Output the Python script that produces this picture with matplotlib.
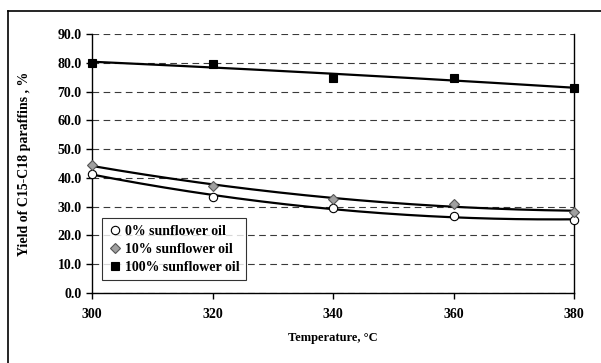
import numpy as np
import matplotlib
matplotlib.use('AGG')
import matplotlib.pyplot as plt
from matplotlib.lines import Line2D

temps = [300, 320, 340, 360, 380]
oil_0 = [41.5, 33.3, 29.5, 26.6, 25.4]
oil_10 = [44.5, 37.2, 32.6, 31.1, 28.1]
oil_100 = [80.0, 79.6, 74.7, 74.6, 71.2]
y_ticks = [0, 10, 20, 30, 40, 50, 60, 70, 80, 90]
x_ticks = [300, 320, 340, 360, 380]

plt.rcParams['font.family'] = ['Liberation Serif', 'DejaVu Serif']
plt.rcParams['font.weight'] = 'bold'

fig = plt.figure(figsize=(6.01, 3.63), dpi=100)
ax = fig.add_axes([92 / 601, 1 - 293 / 363, (574 - 92) / 601, (293 - 34) / 363])

# outer chart frame
fig.add_artist(Line2D([8 / 601, 8 / 601], [0, 1 - 11 / 363], transform=fig.transFigure,
                      color='black', lw=1.2))
fig.add_artist(Line2D([8 / 601, 1], [1 - 11 / 363, 1 - 11 / 363], transform=fig.transFigure,
                      color='black', lw=1.2))

xs = np.linspace(300, 380, 200)
series = [
    (oil_0, 'o', 'white', '0% sunflower oil'),
    (oil_10, 'D', '#a0a0a0', '10% sunflower oil'),
    (oil_100, 's', 'black', '100% sunflower oil'),
]
for vals, mk, fc, lab in series:
    coef = np.polyfit(temps, vals, 2)
    ax.plot(xs, np.polyval(coef, xs), color='black', lw=1.6, zorder=2)
    ms = 5 if mk == 'D' else 6
    ax.plot(temps, vals, linestyle='none', marker=mk, markersize=ms,
            markerfacecolor=fc, markeredgecolor='black' if mk != 'D' else '#555555',
            markeredgewidth=0.8, label=lab, zorder=3, clip_on=False)

ax.set_xlim(300, 380)
ax.set_ylim(0, 90)
ax.set_xticks(x_ticks)
ax.set_yticks(y_ticks)
ax.set_yticklabels([f'{v:.1f}' for v in y_ticks])
ax.tick_params(axis='both', labelsize=10, length=4, width=1, direction='out')
ax.tick_params(axis='x', pad=7)
for lbl in ax.get_xticklabels() + ax.get_yticklabels():
    lbl.set_fontweight('bold')

ax.grid(axis='y', linestyle=(0, (6, 4)), color='#3a3a3a', lw=0.8)
ax.spines['top'].set_visible(False)
for s in ['left', 'bottom', 'right']:
    ax.spines[s].set_linewidth(1.0)

ax.set_xlabel('Temperature, °C', fontsize=9, fontweight='bold', labelpad=8)
ax.set_ylabel('Yield of C15-C18 paraffins , %', fontsize=10, fontweight='bold', labelpad=19)

leg = ax.legend(loc='lower left', bbox_to_anchor=(0.006, 0.022), fontsize=10,
                frameon=True, fancybox=False, edgecolor='black', handletextpad=0.2,
                handlelength=1.0, borderpad=0.45, labelspacing=0.38)
leg.get_frame().set_linewidth(0.8)
for t in leg.get_texts():
    t.set_fontweight('bold')

plt.savefig('out.png', dpi=100)
plt.close()
